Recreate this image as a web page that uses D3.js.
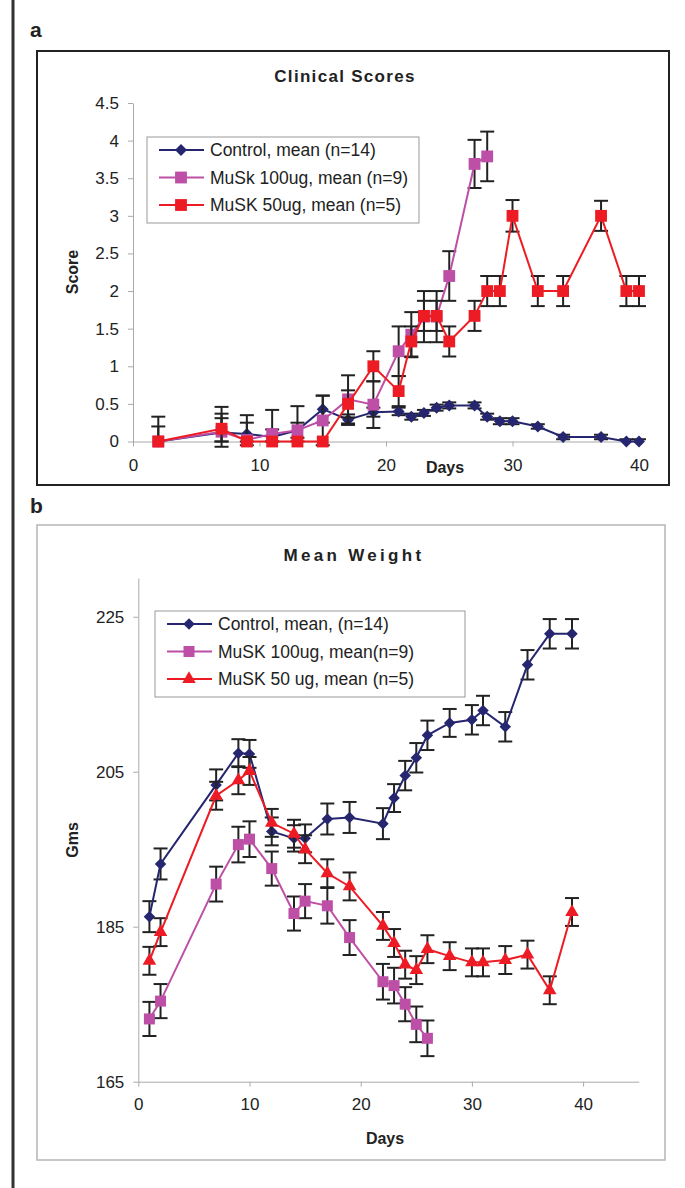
<!DOCTYPE html>
<html lang="en">
<head>
    <meta charset="UTF-8">
    <title>Clinical Scores and Mean Weight</title>
    <script src="https://d3js.org/d3.v7.min.js"></script>
    <style>
        body { margin: 0; background: #fff; }
        text { font-family: "Liberation Sans", Arial, sans-serif; fill: #222; }
    </style>
</head>
<body>
    <div id="chart"></div>
    <script>
        // Panel a - clinical scores
        var scoreTicks = [0, 0.5, 1, 1.5, 2, 2.5, 3, 3.5, 4, 4.5];
        var dayTicksA = [0, 10, 20, 30, 40];

        var scoreDaysCtrl = [2, 7, 9, 11, 13, 15, 17, 19, 21, 22, 23, 24, 25, 27, 28, 29, 30, 32, 34, 37, 39, 40];
        var scoreCtrl = [0, 0.12, 0.1, 0.06, 0.15, 0.43, 0.29, 0.39, 0.4, 0.33, 0.38, 0.45, 0.48, 0.48, 0.33, 0.27, 0.27, 0.2, 0.06, 0.06, 0, 0];
        var scoreCtrlErr = [0, 0.19, 0.15, 0.1, 0.1, 0.18, 0.07, 0.06, 0.05, 0.04, 0.04, 0.04, 0.04, 0.04, 0.04, 0.04, 0.04, 0.03, 0.03, 0.03, 0.03, 0.03];
        var scoreCtrlErrLow = [0, 0.19, 0.15, 0.06, 0.1, 0.18, 0.07, 0.06, 0.05, 0.04, 0.04, 0.04, 0.04, 0.04, 0.04, 0.04, 0.04, 0.03, 0.03, 0.03, 0, 0];

        var scoreDays100 = [2, 7, 9, 11, 13, 15, 17, 19, 21, 22, 23, 24, 25, 27, 28];
        var score100 = [0, 0.13, 0.02, 0.1, 0.15, 0.28, 0.56, 0.49, 1.2, 1.42, 1.66, 1.66, 2.2, 3.69, 3.79];
        var score100Err = [0.33, 0.33, 0.33, 0.32, 0.32, 0.33, 0.32, 0.31, 0.33, 0.3, 0.34, 0.34, 0.33, 0.32, 0.33];
        var score100ErrLow = [0, 0.13, 0.02, 0.1, 0.15, 0.33, 0.32, 0.31, 0.33, 0.3, 0.34, 0.34, 0.33, 0.32, 0.33];

        var scoreDays50 = [2, 7, 9, 11, 13, 15, 17, 19, 21, 22, 23, 24, 25, 27, 28, 29, 30, 32, 34, 37, 39, 40];
        var score50 = [0, 0.17, 0, 0, 0, 0, 0.5, 1, 0.67, 1.33, 1.67, 1.67, 1.33, 1.67, 2, 2, 3, 2, 2, 3, 2, 2];
        var score50Err = [0.2, 0.2, 0, 0, 0, 0, 0.18, 0.2, 0.2, 0.2, 0.2, 0.2, 0.2, 0.2, 0.2, 0.2, 0.21, 0.2, 0.2, 0.2, 0.2, 0.2];
        var score50ErrLow = [0, 0.17, 0, 0, 0, 0, 0.18, 0.2, 0.2, 0.2, 0.2, 0.2, 0.2, 0.2, 0.2, 0.2, 0.21, 0.2, 0.2, 0.2, 0.2, 0.2];

        // Panel b - mean weight
        var weightTicks = [165, 185, 205, 225];
        var dayTicksB = [0, 10, 20, 30, 40];

        var wDaysCtrl = [1, 2, 7, 9, 10, 12, 14, 15, 17, 19, 22, 23, 24, 25, 26, 28, 30, 31, 33, 35, 37, 39];
        var wCtrl = [186.3, 193.1, 203.3, 207.4, 207.3, 197.3, 196.4, 196.4, 198.9, 199.1, 198.3, 201.6, 204.5, 206.8, 209.7, 211.3, 211.7, 212.9, 210.8, 218.8, 222.8, 222.8];
        var wCtrlErr = [2, 2, 2, 1.8, 1.8, 1.8, 1.7, 1.8, 2, 2, 2, 1.8, 1.9, 1.9, 1.9, 1.8, 1.9, 1.9, 1.9, 1.9, 1.9, 1.9];

        var wDays100 = [1, 2, 7, 9, 10, 12, 14, 15, 17, 19, 22, 23, 24, 25, 26];
        var w100 = [173.1, 175.4, 190.5, 195.6, 196.3, 192.5, 186.7, 188.3, 187.7, 183.6, 177.9, 177.4, 175, 172.4, 170.6];
        var w100Err = [2.2, 2.2, 2.25, 2.3, 2.3, 2.2, 2.2, 2.2, 2.3, 2.25, 2.3, 2.3, 2.2, 2.3, 2.3];

        var wDays50 = [1, 2, 7, 9, 10, 12, 14, 15, 17, 19, 22, 23, 24, 25, 26, 28, 30, 31, 33, 35, 37, 39];
        var w50 = [180.6, 184.3, 201.9, 203.9, 205.1, 198.4, 197, 195, 191.9, 190.2, 185.1, 182.9, 180.1, 179.4, 182.1, 181.2, 180.4, 180.4, 180.7, 181.4, 176.8, 186.9];
        var w50Err = [1.8, 1.8, 1.8, 1.8, 1.8, 1.8, 1.8, 1.8, 1.8, 1.8, 1.8, 1.8, 1.8, 1.8, 1.8, 1.8, 1.8, 1.8, 1.8, 1.8, 1.8, 1.8];

        var navy = "#25266f", magenta = "#bd4fa6", red = "#ed1c24";

        var svg = d3.select("#chart").append("svg")
            .attr("width", 685)
            .attr("height", 1188);

        // outer left rule of the figure
        svg.append("line").attr("x1", 13).attr("x2", 13).attr("y1", 0).attr("y2", 1188)
            .attr("stroke", "#333").attr("stroke-width", 3);

        function zip(days, vals, errs, errsLow) {
            return days.map(function(d, i) {
                return {day: d, v: vals[i], up: errs[i], lo: errsLow ? errsLow[i] : errs[i]};
            });
        }

        function markerPath(kind, size) {
            if (kind == "triangle") return d3.symbol().type(d3.symbolTriangle).size(size)();
            return d3.symbol().type(d3.symbolSquare).size(size)();
        }

        function drawSeries(g, x, y, s) {
            var data = zip(s.days, s.vals, s.errs, s.errsLow);
            var eb = g.append("g").attr("stroke", "#222").attr("stroke-width", 2);
            data.forEach(function(d) {
                var cx = x(d.day);
                if (d.up > 0 || d.lo > 0) {
                    eb.append("line").attr("x1", cx).attr("x2", cx).attr("y1", y(d.v - d.lo)).attr("y2", y(d.v + d.up));
                }
                if (d.lo > 0) {
                    eb.append("line").attr("x1", cx - s.cap).attr("x2", cx + s.cap).attr("y1", y(d.v - d.lo)).attr("y2", y(d.v - d.lo));
                }
                if (d.up > 0) {
                    eb.append("line").attr("x1", cx - s.cap).attr("x2", cx + s.cap).attr("y1", y(d.v + d.up)).attr("y2", y(d.v + d.up));
                }
            });
            g.append("path").datum(data)
                .attr("fill", "none").attr("stroke", s.color).attr("stroke-width", 2)
                .attr("d", d3.line().x(function(d) { return x(d.day); }).y(function(d) { return y(d.v); }));
            g.selectAll(null).data(data).enter().append("path")
                .attr("d", markerPath(s.marker, s.size))
                .attr("fill", s.color)
                .attr("transform", function(d) {
                    return "translate(" + x(d.day) + "," + y(d.v) + ")" + (s.marker == "diamond" ? " rotate(45)" : "");
                });
        }

        function drawLegend(g, lx, ly, w, h, series) {
            g.append("rect").attr("x", lx).attr("y", ly).attr("width", w).attr("height", h)
                .attr("fill", "#fff").attr("stroke", "#999").attr("stroke-width", 1);
            series.forEach(function(s, i) {
                var cy = ly + 13 + i * 27.5;
                g.append("line").attr("x1", lx + 12).attr("x2", lx + 57).attr("y1", cy).attr("y2", cy)
                    .attr("stroke", s.color).attr("stroke-width", 2);
                g.append("path").attr("d", markerPath(s.marker, s.size)).attr("fill", s.color)
                    .attr("transform", "translate(" + (lx + 34) + "," + cy + ")" + (s.marker == "diamond" ? " rotate(45)" : ""));
                g.append("text").attr("x", lx + 63).attr("y", cy + 6).attr("font-size", 17.5).text(s.name);
            });
        }

        function styleAxis(g) {
            g.attr("font-family", null).attr("font-size", null);
            g.select(".domain").attr("stroke", "#aaa");
            g.selectAll(".tick line").attr("stroke", "#aaa");
            g.selectAll(".tick text").attr("font-size", 17).attr("fill", "#222");
        }

        // ---------- Panel a ----------
        svg.append("text").attr("x", 30).attr("y", 37).attr("font-size", 21).attr("font-weight", "bold").text("a");
        svg.append("rect").attr("x", 37).attr("y", 51).attr("width", 632).attr("height", 434)
            .attr("fill", "none").attr("stroke", "#222").attr("stroke-width", 2);

        var xA = d3.scaleLinear().domain([0, 40]).range([133, 639]);
        var yA = d3.scaleLinear().domain([0, 4.5]).range([441.5, 103]);

        var gA = svg.append("g");
        gA.append("g").attr("transform", "translate(0,441.5)")
            .call(d3.axisBottom(xA).tickValues(dayTicksA).tickSize(5).tickSizeOuter(0).tickPadding(12).tickFormat(d3.format("d")))
            .call(styleAxis);
        gA.append("g").attr("transform", "translate(133,0)")
            .call(d3.axisLeft(yA).tickValues(scoreTicks).tickSize(5).tickSizeOuter(0).tickPadding(9).tickFormat(function(d) { return d; }))
            .call(styleAxis);

        gA.append("text").attr("x", 345).attr("y", 82).attr("text-anchor", "middle")
            .attr("font-size", 17).attr("font-weight", "bold").attr("letter-spacing", 1.3).text("Clinical Scores");
        gA.append("text").attr("x", 445).attr("y", 473).attr("text-anchor", "middle")
            .attr("font-size", 16).attr("font-weight", "bold").text("Days");
        gA.append("text").attr("transform", "translate(78,272) rotate(-90)").attr("text-anchor", "middle")
            .attr("font-size", 16).attr("font-weight", "bold").text("Score");

        var seriesA = [
            {name: "Control, mean (n=14)", days: scoreDaysCtrl, vals: scoreCtrl, errs: scoreCtrlErr, errsLow: scoreCtrlErrLow, color: navy, marker: "diamond", size: 72, cap: 7},
            {name: "MuSk 100ug, mean (n=9)", days: scoreDays100, vals: score100, errs: score100Err, errsLow: score100ErrLow, color: magenta, marker: "square", size: 140, cap: 7},
            {name: "MuSK 50ug, mean (n=5)", days: scoreDays50, vals: score50, errs: score50Err, errsLow: score50ErrLow, color: red, marker: "square", size: 140, cap: 7}
        ];
        seriesA.forEach(function(s) { drawSeries(gA.append("g"), xA, yA, s); });
        drawLegend(gA, 147, 137, 272, 86, seriesA);

        // ---------- Panel b ----------
        svg.append("text").attr("x", 30).attr("y", 513).attr("font-size", 21).attr("font-weight", "bold").text("b");
        svg.append("rect").attr("x", 37).attr("y", 525).attr("width", 628).attr("height", 635)
            .attr("fill", "none").attr("stroke", "#b5b5b5").attr("stroke-width", 1.5);

        var xB = d3.scaleLinear().domain([0, 45]).range([138.3, 638.7]);
        var yB = d3.scaleLinear().domain([165, 230]).range([1081.7, 578]);

        var gB = svg.append("g");
        gB.append("g").attr("transform", "translate(0,1081.7)")
            .call(d3.axisBottom(xB).tickValues(dayTicksB).tickSize(5).tickSizeOuter(0).tickPadding(11).tickFormat(d3.format("d")))
            .call(styleAxis);
        gB.append("g").attr("transform", "translate(138.3,0)")
            .call(d3.axisLeft(yB).tickValues(weightTicks).tickSize(5).tickSizeOuter(0).tickPadding(9).tickFormat(d3.format("d")))
            .call(styleAxis);

        gB.append("text").attr("x", 354).attr("y", 561).attr("text-anchor", "middle")
            .attr("font-size", 17).attr("font-weight", "bold").attr("letter-spacing", 3.3).text("Mean Weight");
        gB.append("text").attr("x", 385).attr("y", 1144).attr("text-anchor", "middle")
            .attr("font-size", 16).attr("font-weight", "bold").text("Days");
        gB.append("text").attr("transform", "translate(78,840) rotate(-90)").attr("text-anchor", "middle")
            .attr("font-size", 16).attr("font-weight", "bold").text("Gms");

        var seriesB = [
            {name: "Control, mean, (n=14)", days: wDaysCtrl, vals: wCtrl, errs: wCtrlErr, color: navy, marker: "diamond", size: 66, cap: 7},
            {name: "MuSK 100ug, mean(n=9)", days: wDays100, vals: w100, errs: w100Err, color: magenta, marker: "square", size: 121, cap: 7},
            {name: "MuSK 50 ug, mean (n=5)", days: wDays50, vals: w50, errs: w50Err, color: red, marker: "triangle", size: 80, cap: 7}
        ];
        seriesB.forEach(function(s) { drawSeries(gB.append("g"), xB, yB, s); });
        drawLegend(gB, 155, 611, 310, 86, seriesB);
    </script>
</body>
</html>
